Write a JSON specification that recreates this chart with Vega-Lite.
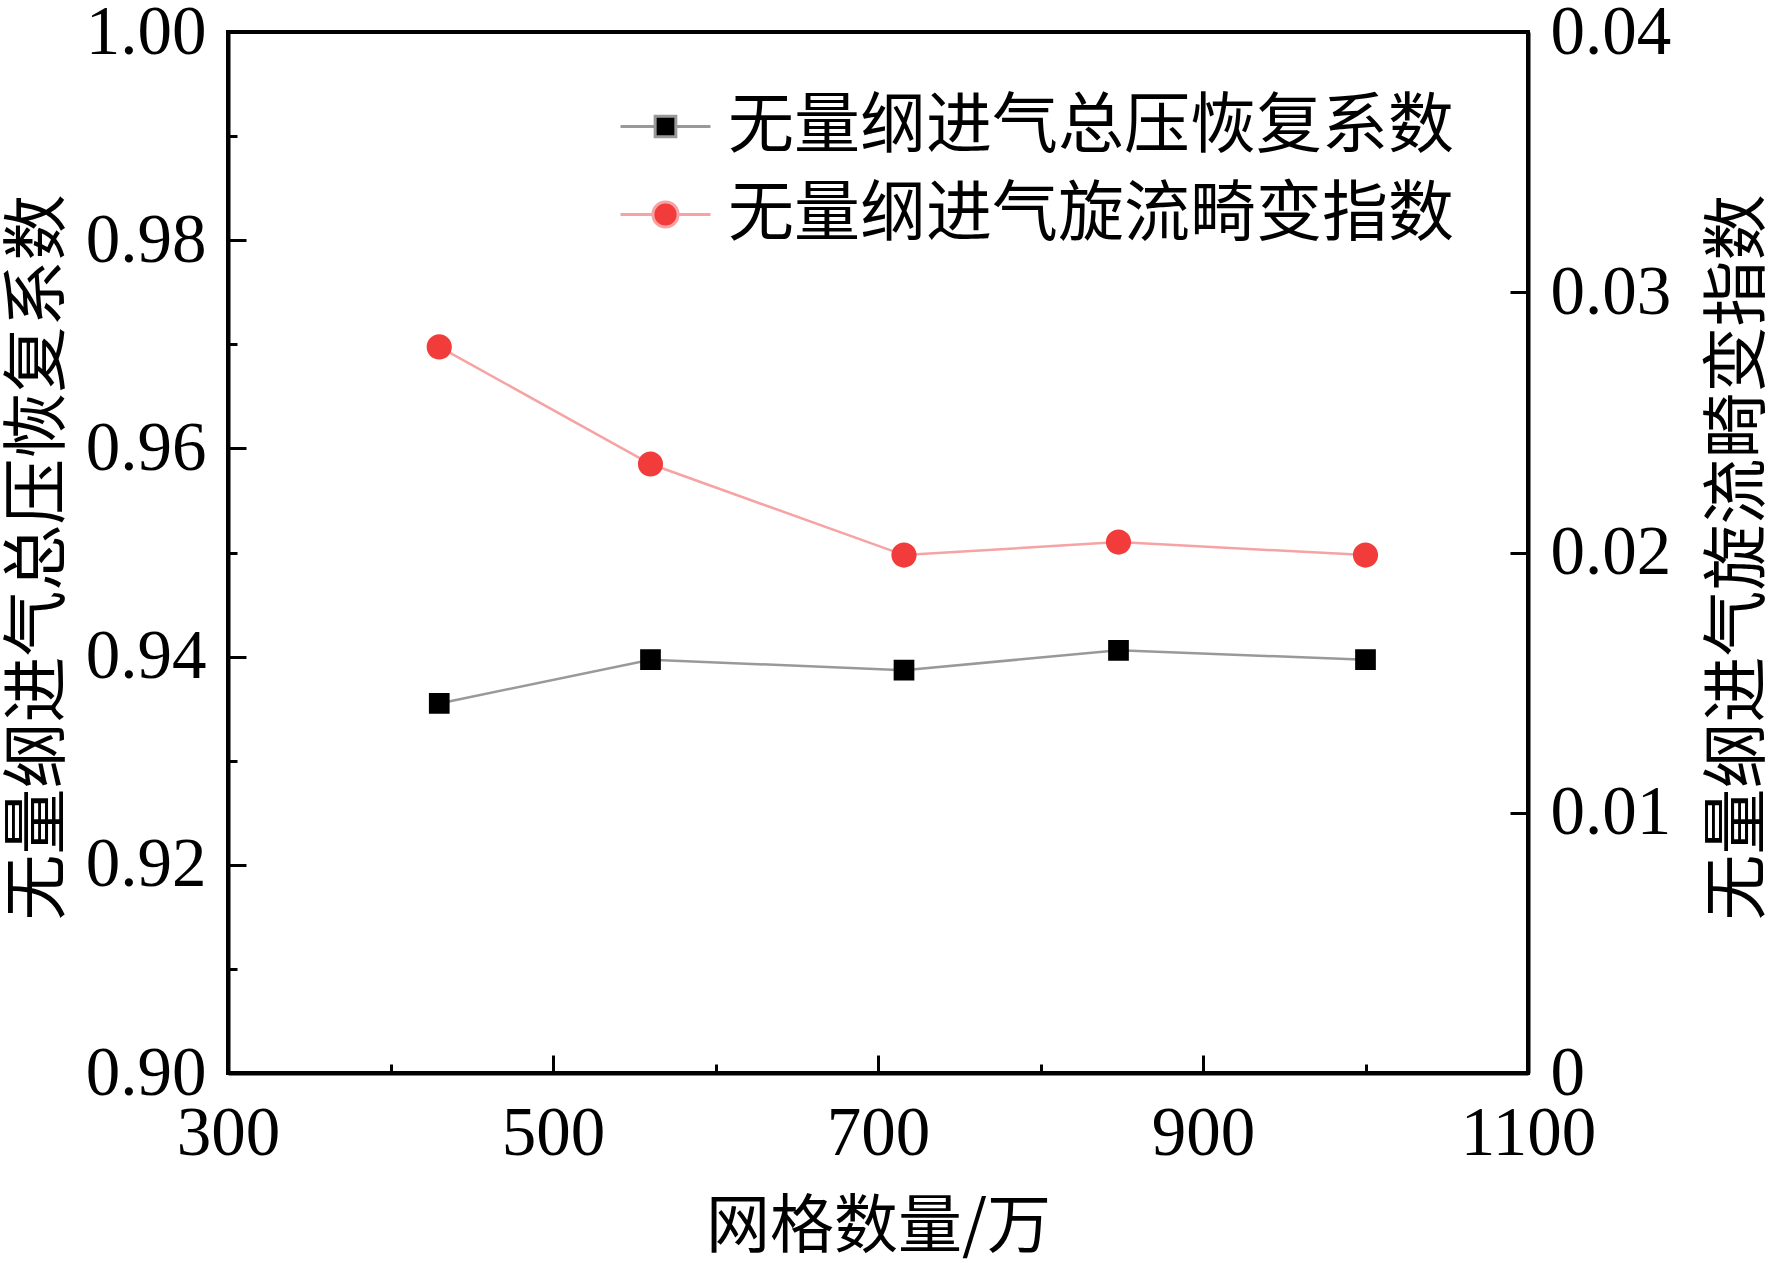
{
  "$schema": "https://vega.github.io/schema/vega-lite/v6.json",
  "width": 1300,
  "height": 1041,
  "autosize": {"type": "none"},
  "padding": {"left": 228, "top": 32, "right": 244, "bottom": 190},
  "background": "white",
  "config": {
    "view": {"stroke": "black", "strokeWidth": 4},
    "axis": {
      "grid": false,
      "domainColor": "black",
      "domainWidth": 4,
      "tickColor": "black",
      "tickWidth": 3,
      "labelFont": "Liberation Serif",
      "labelFontSize": 69,
      "labelColor": "black",
      "titleFont": "Noto Sans CJK SC",
      "titleFontWeight": "normal",
      "titleColor": "black"
    },
    "legend": {
      "orient": "none",
      "legendX": 391,
      "legendY": 48,
      "padding": 0,
      "rowPadding": 8,
      "symbolSize": 8100,
      "symbolStrokeWidth": 3,
      "labelFont": "Noto Sans CJK SC",
      "labelFontSize": 66,
      "labelColor": "black",
      "labelLimit": 0,
      "labelOffset": 16
    }
  },
  "data": {
    "values": [
      {"n": 430, "v": 0.9355, "s": "无量纲进气总压恢复系数"},
      {"n": 560, "v": 0.9397, "s": "无量纲进气总压恢复系数"},
      {"n": 716, "v": 0.9387, "s": "无量纲进气总压恢复系数"},
      {"n": 848, "v": 0.9406, "s": "无量纲进气总压恢复系数"},
      {"n": 1000, "v": 0.9397, "s": "无量纲进气总压恢复系数"},
      {"n": 430, "v": 0.0279, "s": "无量纲进气旋流畸变指数"},
      {"n": 560, "v": 0.0234, "s": "无量纲进气旋流畸变指数"},
      {"n": 716, "v": 0.0199, "s": "无量纲进气旋流畸变指数"},
      {"n": 848, "v": 0.0204, "s": "无量纲进气旋流畸变指数"},
      {"n": 1000, "v": 0.0199, "s": "无量纲进气旋流畸变指数"}
    ]
  },
  "encoding": {
    "x": {
      "field": "n",
      "type": "quantitative",
      "scale": {"domain": [300, 1100], "nice": false, "zero": false},
      "axis": {
        "values": [300, 400, 500, 600, 700, 800, 900, 1000, 1100],
        "labelExpr": "datum.value % 200 == 100 ? datum.label : ''",
        "format": "d",
        "tickSize": {"condition": {"test": "datum.value % 200 == 100", "value": -18}, "value": -9},
        "labelPadding": 44,
        "labelFlush": false,
        "labelOverlap": false,
        "title": "网格数量/万",
        "titleFontSize": 64,
        "titleX": 650,
        "titleY": 154,
        "titleAlign": "center",
        "titleBaseline": "middle"
      }
    }
  },
  "layer": [
    {
      "transform": [{"filter": "datum.s === '无量纲进气总压恢复系数'"}],
      "encoding": {
        "y": {
          "field": "v",
          "type": "quantitative",
          "scale": {"domain": [0.9, 1.0], "nice": false, "zero": false},
          "axis": {
            "orient": "left",
            "values": [0.9, 0.91, 0.92, 0.93, 0.94, 0.95, 0.96, 0.97, 0.98, 0.99, 1.0],
            "format": ".2f",
            "labelExpr": "round(datum.value * 100) % 2 == 0 ? datum.label : ''",
            "tickSize": {"condition": {"test": "round(datum.value * 100) % 2 == 0", "value": -18}, "value": -9},
            "labelPadding": 40,
            "labelFlush": false,
            "labelOverlap": false,
            "title": "无量纲进气总压恢复系数",
            "titleFontSize": 66,
            "titleAngle": -90,
            "titleX": -190,
            "titleY": 525,
            "titleAlign": "center",
            "titleBaseline": "middle"
          }
        }
      },
      "layer": [
        {
          "mark": {"type": "line", "strokeWidth": 2.5},
          "encoding": {
            "stroke": {
              "field": "s",
              "type": "nominal",
              "scale": {"domain": ["无量纲进气总压恢复系数", "无量纲进气旋流畸变指数"], "range": ["#999999", "#f5a3a3"]},
              "legend": {"title": null}
            }
          }
        },
        {
          "mark": {"type": "point", "filled": true, "size": 8100, "opacity": 1, "strokeWidth": 0},
          "encoding": {
            "fill": {
              "field": "s",
              "type": "nominal",
              "scale": {"domain": ["无量纲进气总压恢复系数", "无量纲进气旋流畸变指数"], "range": ["#000000", "#f23c3c"]},
              "legend": {"title": null}
            },
            "shape": {
              "field": "s",
              "type": "nominal",
              "scale": {
                "domain": ["无量纲进气总压恢复系数", "无量纲进气旋流畸变指数"],
                "range": [
                  "M-1,0H-0.23M0.23,0H1M-0.23,-0.23H0.23V0.23H-0.23Z",
                  "M-1,0H-0.28M0.28,0H1M0.28,0A0.28,0.28 0 1 1 -0.28,0A0.28,0.28 0 1 1 0.28,0Z"
                ]
              },
              "legend": {"title": null}
            }
          }
        }
      ]
    },
    {
      "transform": [{"filter": "datum.s === '无量纲进气旋流畸变指数'"}],
      "encoding": {
        "y": {
          "field": "v",
          "type": "quantitative",
          "scale": {"domain": [0, 0.04], "nice": false, "zero": false},
          "axis": {
            "orient": "right",
            "values": [0, 0.01, 0.02, 0.03, 0.04],
            "labelExpr": "datum.value == 0 ? '0' : format(datum.value, '.2f')",
            "tickSize": -18,
            "labelPadding": 40,
            "labelFlush": false,
            "labelOverlap": false,
            "title": "无量纲进气旋流畸变指数",
            "titleFontSize": 66,
            "titleAngle": -90,
            "titleX": 210,
            "titleY": 525,
            "titleAlign": "center",
            "titleBaseline": "middle"
          }
        }
      },
      "layer": [
        {
          "mark": {"type": "line", "strokeWidth": 2.5},
          "encoding": {
            "stroke": {
              "field": "s",
              "type": "nominal",
              "scale": {"domain": ["无量纲进气总压恢复系数", "无量纲进气旋流畸变指数"], "range": ["#999999", "#f5a3a3"]},
              "legend": {"title": null}
            }
          }
        },
        {
          "mark": {"type": "point", "filled": true, "size": 8100, "opacity": 1, "strokeWidth": 0},
          "encoding": {
            "fill": {
              "field": "s",
              "type": "nominal",
              "scale": {"domain": ["无量纲进气总压恢复系数", "无量纲进气旋流畸变指数"], "range": ["#000000", "#f23c3c"]},
              "legend": {"title": null}
            },
            "shape": {
              "field": "s",
              "type": "nominal",
              "scale": {
                "domain": ["无量纲进气总压恢复系数", "无量纲进气旋流畸变指数"],
                "range": [
                  "M-1,0H-0.23M0.23,0H1M-0.23,-0.23H0.23V0.23H-0.23Z",
                  "M-1,0H-0.28M0.28,0H1M0.28,0A0.28,0.28 0 1 1 -0.28,0A0.28,0.28 0 1 1 0.28,0Z"
                ]
              },
              "legend": {"title": null}
            }
          }
        }
      ]
    }
  ],
  "resolve": {"scale": {"y": "independent"}}
}
